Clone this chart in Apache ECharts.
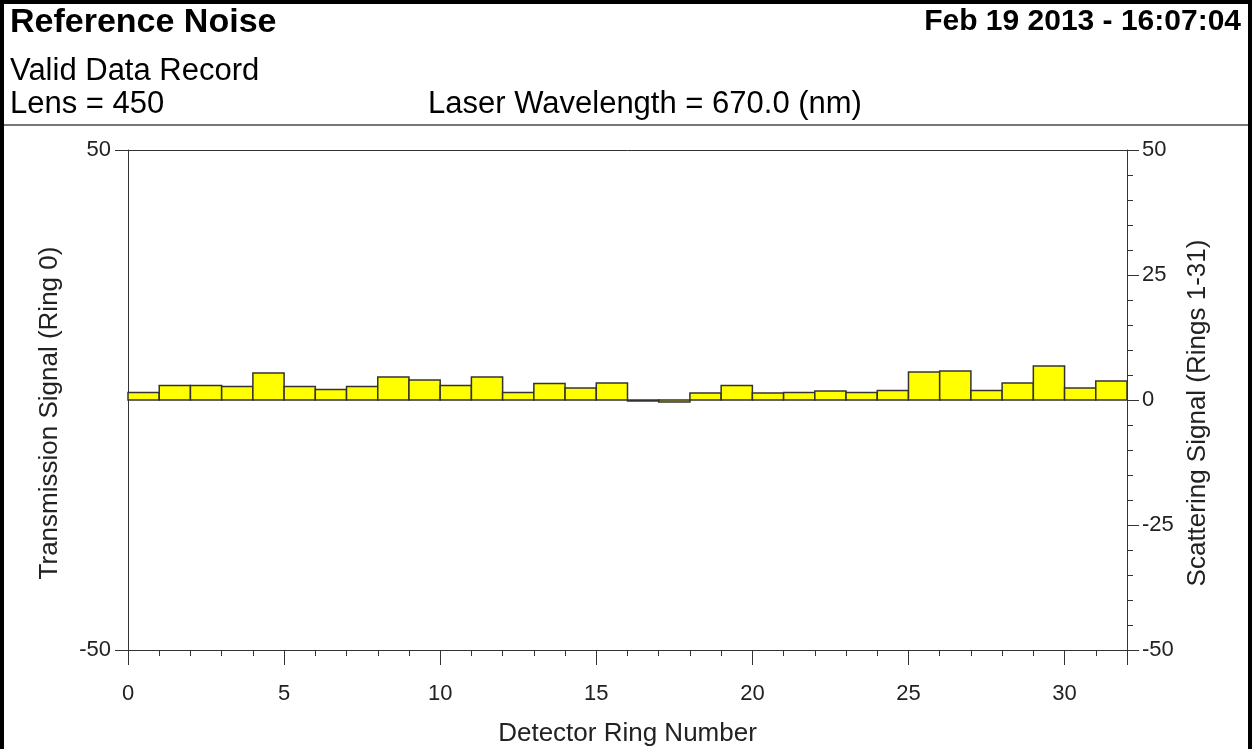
<!DOCTYPE html>
<html>
<head>
<meta charset="utf-8">
<script src="https://cdn.jsdelivr.net/npm/echarts@6/dist/echarts.min.js"></script>
<style>
html,body{margin:0;padding:0;background:#fff;}
#c{width:1253px;height:749px;}
</style>
</head>
<body>
<div id="c"></div>
<script>
// ---- data ----
const transmissionRings = [0];
const transmissionValues = [1.5];
const scatteringRings = [1,2,3,4,5,6,7,8,9,10,11,12,13,14,15,16,17,18,19,20,21,22,23,24,25,26,27,28,29,30,31];
const scatteringValues = [2.9,2.9,2.7,5.4,2.7,2.1,2.7,4.6,4.0,2.9,4.6,1.5,3.3,2.4,3.4,-0.2,-0.4,1.4,2.9,1.4,1.5,1.8,1.5,1.9,5.6,5.8,1.9,3.4,6.8,2.4,3.8];
const leftTicks = [-50, 50];
const rightTicks = [-50, -25, 0, 25, 50];
const titleText = 'Reference Noise';
const dateText = 'Feb 19 2013 - 16:07:04';
const recordText = 'Valid Data Record';
const lensText = 'Lens = 450';
const laserText = 'Laser Wavelength = 670.0 (nm)';
const xName = 'Detector Ring Number';
const leftName = 'Transmission Signal (Ring 0)';
const rightName = 'Scattering Signal (Rings 1-31)';

const FONT = "'Liberation Sans', Arial, sans-serif";
const chart = echarts.init(document.getElementById('c'), null, {renderer: 'canvas'});

function renderBar(params, api) {
  const x0 = api.value(0), v = api.value(1);
  const p0 = api.coord([x0, 0]);
  const p1 = api.coord([x0 + 1, v]);
  const y = Math.min(p0[1], p1[1]);
  const h = Math.abs(p1[1] - p0[1]);
  return {
    type: 'rect',
    shape: {x: p0[0], y: y, width: p1[0] - p0[0], height: Math.max(h, 0.5)},
    style: {fill: '#ffff00', stroke: '#333333', lineWidth: 1.5}
  };
}

const tickTxt = {color: '#222', fontFamily: FONT, fontSize: 22};
const nameTxt = {color: '#222', fontFamily: FONT, fontSize: 26};
const yNameTxt = Object.assign({padding: [0, 26, 0, 0]}, nameTxt);

chart.setOption({
  animation: false,
  backgroundColor: '#ffffff',
  grid: {left: 128, right: 126, top: 150, bottom: 99, containLabel: false, outerBoundsMode: 'none'},
  graphic: [
    {type: 'rect', shape: {x: 2, y: 2, width: 1248, height: 760}, style: {fill: 'none', stroke: '#000', lineWidth: 4}, z: 100},
    {type: 'line', shape: {x1: 4, y1: 125, x2: 1249, y2: 125}, style: {stroke: '#777', lineWidth: 2}},
    {type: 'text', left: 10, top: 6, style: {text: titleText, font: 'bold 34px ' + FONT, fill: '#000'}},
    {type: 'text', right: 12, top: 7, style: {text: dateText, font: 'bold 30px ' + FONT, fill: '#000'}},
    {type: 'text', left: 10, top: 56, style: {text: recordText, font: '31px ' + FONT, fill: '#000'}},
    {type: 'text', left: 10, top: 89, style: {text: lensText, font: '31px ' + FONT, fill: '#000'}},
    {type: 'text', left: 428, top: 89, style: {text: laserText, font: '31px ' + FONT, fill: '#000'}}
  ],
  xAxis: [
    {
      type: 'value', position: 'bottom', min: 0, max: 32, interval: 5,
      name: xName, nameLocation: 'middle', nameGap: 71,
      nameTextStyle: nameTxt,
      axisLine: {onZero: false, lineStyle: {color: '#333', width: 1}},
      axisTick: {show: true, length: 15, lineStyle: {color: '#333'}},
      minorTick: {show: true, splitNumber: 5, length: 6, lineStyle: {color: '#333'}},
      axisLabel: Object.assign({margin: 33, showMaxLabel: false}, tickTxt),
      splitLine: {show: false}
    },
    {
      type: 'value', position: 'top', min: 0, max: 32,
      axisLine: {onZero: false, lineStyle: {color: '#333', width: 1}},
      axisTick: {show: false}, axisLabel: {show: false}, splitLine: {show: false}
    }
  ],
  yAxis: [
    {
      type: 'value', position: 'left', min: leftTicks[0], max: leftTicks[1], interval: 100,
      name: leftName, nameLocation: 'middle', nameGap: 65, nameRotate: 90,
      nameTextStyle: yNameTxt,
      axisLine: {show: true, onZero: false, lineStyle: {color: '#333', width: 1}},
      axisTick: {show: true, length: 13, lineStyle: {color: '#333'}},
      axisLabel: Object.assign({margin: 17}, tickTxt),
      splitLine: {show: false}
    },
    {
      type: 'value', position: 'right', min: rightTicks[0], max: rightTicks[rightTicks.length - 1], interval: 25,
      name: rightName, nameLocation: 'middle', nameGap: 57, nameRotate: 90,
      nameTextStyle: yNameTxt,
      axisLine: {show: true, onZero: false, lineStyle: {color: '#333', width: 1}},
      axisTick: {show: true, length: 12, lineStyle: {color: '#333'}},
      minorTick: {show: true, splitNumber: 5, length: 6, lineStyle: {color: '#333'}},
      axisLabel: Object.assign({margin: 15}, tickTxt),
      splitLine: {show: false}
    }
  ],
  series: [
    {
      type: 'custom', name: 'Transmission', xAxisIndex: 0, yAxisIndex: 0,
      renderItem: renderBar,
      data: transmissionRings.map((r, i) => [r, transmissionValues[i]]),
      encode: {x: 0, y: 1}, clip: false
    },
    {
      type: 'custom', name: 'Scattering', xAxisIndex: 0, yAxisIndex: 1,
      renderItem: renderBar,
      data: scatteringRings.map((r, i) => [r, scatteringValues[i]]),
      encode: {x: 0, y: 1}, clip: false
    }
  ]
});
</script>
</body>
</html>
